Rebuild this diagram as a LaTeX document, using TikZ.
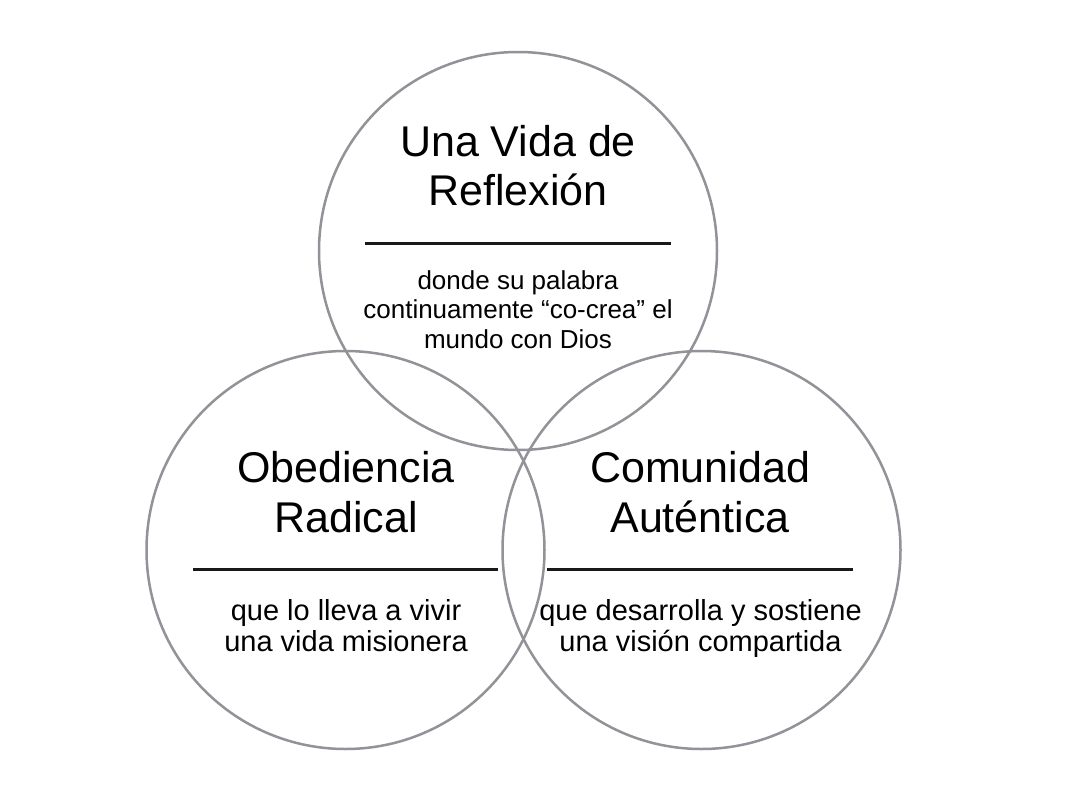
\documentclass[tikz,border=0pt]{standalone}
\usepackage{fontspec}
\setmainfont{Liberation Sans}
\definecolor{ringgray}{RGB}{146,146,152}
\begin{document}
\begin{tikzpicture}[x=1pt,y=-1pt,
  circ/.style={circle, draw=ringgray, line width=2.5pt, minimum size=398pt, inner sep=0pt},
  title/.style={font=\fontsize{43}{49}\selectfont, anchor=base, inner sep=0pt},
  subtop/.style={font=\fontsize{26}{30}\selectfont, anchor=base, inner sep=0pt},
  subbot/.style={font=\fontsize{29}{31}\selectfont, anchor=base, inner sep=0pt},
  divider/.style={line width=3pt, draw=black!90}]
\useasboundingbox (0,0) rectangle (1074,808);
\fill[white] (0,0) rectangle (1074,808);
% circles
\node[circ] (ctop) at (518,251) {};
\node[circ] (cleft) at (345.5,550) {};
\node[circ] (cright) at (701.5,550) {};
% top circle texts
\node[title] (t1) at (518,156) {Una Vida de};
\node[title] (t2) at (518,205) {Reflexión};
\coordinate (tda) at (365,243);
\coordinate (tdb) at (671,243);
\draw[divider] (tda) -- (tdb);
\node[subtop] (ts1) at (518,289) {donde su palabra};
\node[subtop] (ts2) at (518,318.5) {continuamente “co-crea” el};
\node[subtop] (ts3) at (518,348.5) {mundo con Dios};
% left circle texts
\node[title] (l1) at (346,482) {Obediencia};
\node[title] (l2) at (346,532) {Radical};
\coordinate (lda) at (193,569);
\coordinate (ldb) at (498,569);
\draw[divider] (lda) -- (ldb);
\node[subbot] (ls1) at (346,620.5) {que lo lleva a vivir};
\node[subbot] (ls2) at (346,651.5) {una vida misionera};
% right circle texts
\node[title] (r1) at (700,482) {Comunidad};
\node[title] (r2) at (700,532) {Auténtica};
\coordinate (rda) at (547,569);
\coordinate (rdb) at (853,569);
\draw[divider] (rda) -- (rdb);
\node[subbot] (rs1) at (700.5,620.5) {que desarrolla y sostiene};
\node[subbot] (rs2) at (700.5,651.5) {una visión compartida};
\end{tikzpicture}
\end{document}
